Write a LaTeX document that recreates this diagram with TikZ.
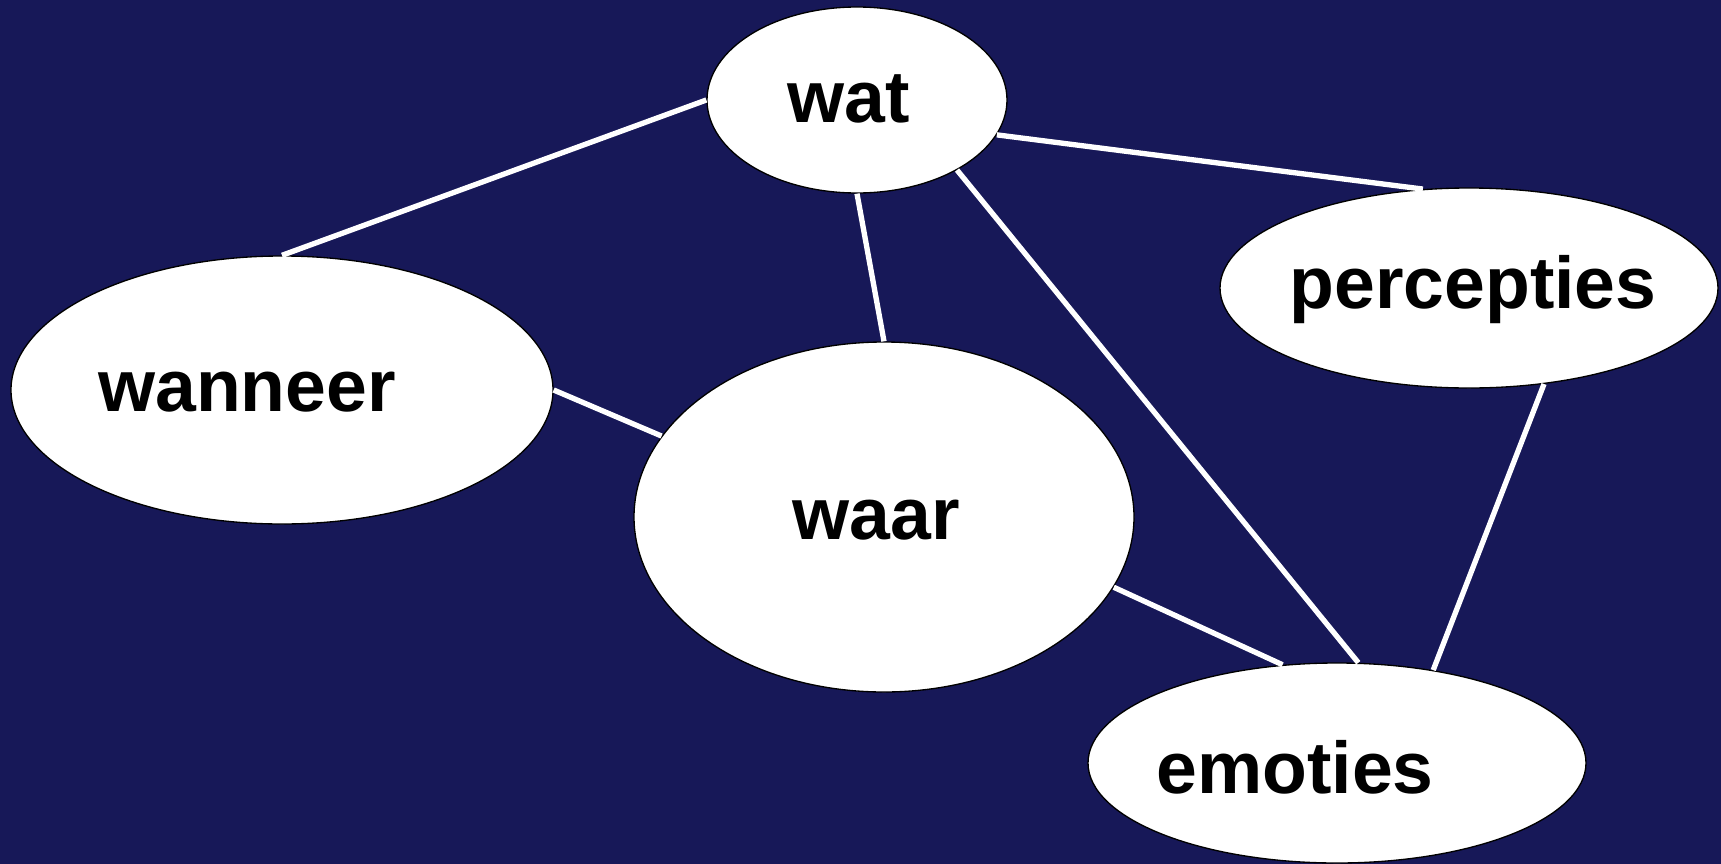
\documentclass[tikz,border=0pt]{standalone}
\usepackage{fontspec}
\setmainfont{Liberation Sans}
\usetikzlibrary{shapes.geometric}
\definecolor{navy}{RGB}{23,24,88}
\tikzset{every picture/.style={line width=0.75pt}}
\tikzset{
  bubble/.style={ellipse,draw=black,line width=1pt,fill=white,inner sep=0pt},
  word/.style={inner sep=0.75pt,font=\fontsize{55}{60}\selectfont\bfseries,text=black},
  link/.style={draw=white,line width=4pt}
}
\begin{document}
\begin{tikzpicture}[x=0.75pt,y=0.75pt,yscale=-1,xscale=1]
%Background
\fill[navy] (0,0) rectangle (1721,864);
\useasboundingbox (0,0) rectangle (1721,864);

%Shape: Ellipses
\node[bubble,minimum width=225pt,minimum height=139.5pt] (wat) at (857,100) {};
\node[bubble,minimum width=406.5pt,minimum height=201pt] (wanneer) at (282,390) {};
\node[bubble,minimum width=375pt,minimum height=262.5pt] (waar) at (884,517) {};
\node[bubble,minimum width=373.5pt,minimum height=150pt] (percepties) at (1469,288) {};
\node[bubble,minimum width=373.5pt,minimum height=150pt] (emoties) at (1337,763) {};

%Straight Lines
\draw[link] (wat.west) -- (wanneer.north);
\draw[link] (wat.south) -- (waar.north);
\draw[link] (wat.-14) -- (percepties.115);
\draw[link] (wat.-35) -- (emoties.78);
\draw[link] (wanneer.east) -- (waar.160);
\draw[link] (waar.-17) -- (emoties.119);
\draw[link] (percepties.-52) -- (emoties.44);

% Text Node
\node[word] (wat-t) at (849,99) {wat};
% Text Node
\node[word] (wanneer-t) at (247,392) {wanneer};
% Text Node
\node[word] (waar-t) at (876,520) {waar};
% Text Node
\node[word] (percepties-t) at (1473,290) {percepties};
% Text Node
\node[word] (emoties-t) at (1295,767) {emoties};

\end{tikzpicture}
\end{document}
